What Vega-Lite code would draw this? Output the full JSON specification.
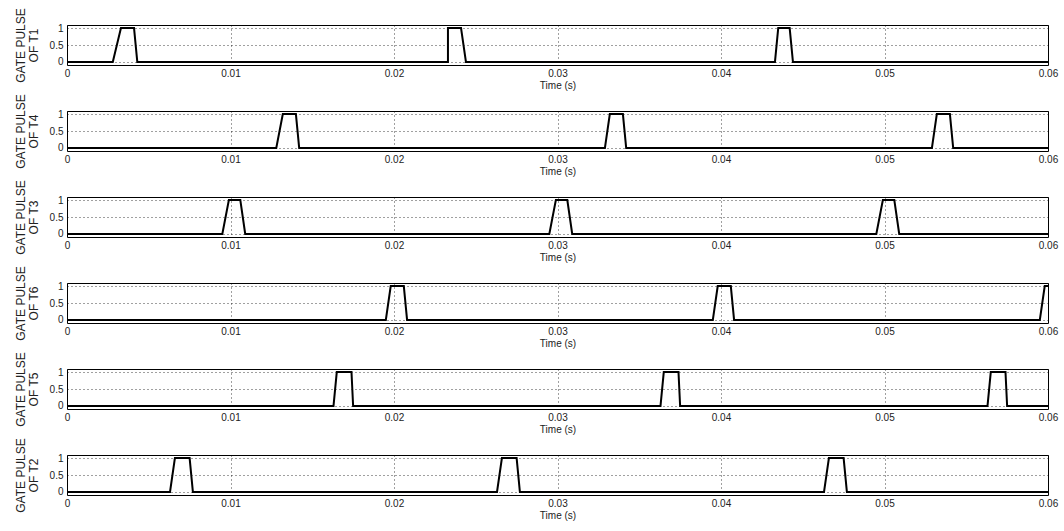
{
  "$schema": "https://vega.github.io/schema/vega-lite/v6.json",
  "background": "white",
  "padding": {"left": 13, "top": 7, "right": 5, "bottom": 2},
  "autosize": {"type": "pad"},
  "bounds": "flush",
  "spacing": 46,
  "config": {
    "view": {"stroke": "black", "strokeWidth": 1},
    "axis": {
      "labelFont": "Liberation Sans",
      "labelFontSize": 10,
      "labelColor": "#222",
      "titleFont": "Liberation Sans",
      "titleFontWeight": "normal",
      "titleColor": "#222",
      "grid": true,
      "gridColor": "black",
      "gridDash": [1, 3],
      "gridOpacity": 0.75,
      "ticks": false,
      "domain": false,
      "labelFlush": false
    },
    "axisX": {"titleFontSize": 10, "labelPadding": 3, "titlePadding": 2},
    "axisY": {"titleFontSize": 12, "labelPadding": 4, "titlePadding": 9, "titleLineHeight": 13}
  },
  "data": {"values": [
    {"p":"T1","i":0,"t":0,"v":0},{"p":"T1","i":1,"t":0.0028,"v":0},{"p":"T1","i":2,"t":0.0033,"v":1},{"p":"T1","i":3,"t":0.0041,"v":1},{"p":"T1","i":4,"t":0.0043,"v":0},{"p":"T1","i":5,"t":0.0233,"v":0},{"p":"T1","i":6,"t":0.0233,"v":1},{"p":"T1","i":7,"t":0.0241,"v":1},{"p":"T1","i":8,"t":0.0244,"v":0},{"p":"T1","i":9,"t":0.0433,"v":0},{"p":"T1","i":10,"t":0.0435,"v":1},{"p":"T1","i":11,"t":0.0442,"v":1},{"p":"T1","i":12,"t":0.0444,"v":0},{"p":"T1","i":13,"t":0.06,"v":0},
    {"p":"T4","i":0,"t":0,"v":0},{"p":"T4","i":1,"t":0.0128,"v":0},{"p":"T4","i":2,"t":0.0132,"v":1},{"p":"T4","i":3,"t":0.014,"v":1},{"p":"T4","i":4,"t":0.0142,"v":0},{"p":"T4","i":5,"t":0.0329,"v":0},{"p":"T4","i":6,"t":0.0332,"v":1},{"p":"T4","i":7,"t":0.034,"v":1},{"p":"T4","i":8,"t":0.0342,"v":0},{"p":"T4","i":9,"t":0.0529,"v":0},{"p":"T4","i":10,"t":0.0532,"v":1},{"p":"T4","i":11,"t":0.054,"v":1},{"p":"T4","i":12,"t":0.0542,"v":0},{"p":"T4","i":13,"t":0.06,"v":0},
    {"p":"T3","i":0,"t":0,"v":0},{"p":"T3","i":1,"t":0.0095,"v":0},{"p":"T3","i":2,"t":0.0099,"v":1},{"p":"T3","i":3,"t":0.0106,"v":1},{"p":"T3","i":4,"t":0.0109,"v":0},{"p":"T3","i":5,"t":0.0295,"v":0},{"p":"T3","i":6,"t":0.0299,"v":1},{"p":"T3","i":7,"t":0.0306,"v":1},{"p":"T3","i":8,"t":0.0309,"v":0},{"p":"T3","i":9,"t":0.0495,"v":0},{"p":"T3","i":10,"t":0.0499,"v":1},{"p":"T3","i":11,"t":0.0506,"v":1},{"p":"T3","i":12,"t":0.0509,"v":0},{"p":"T3","i":13,"t":0.06,"v":0},
    {"p":"T6","i":0,"t":0,"v":0},{"p":"T6","i":1,"t":0.0195,"v":0},{"p":"T6","i":2,"t":0.0198,"v":1},{"p":"T6","i":3,"t":0.0206,"v":1},{"p":"T6","i":4,"t":0.0208,"v":0},{"p":"T6","i":5,"t":0.0395,"v":0},{"p":"T6","i":6,"t":0.0398,"v":1},{"p":"T6","i":7,"t":0.0406,"v":1},{"p":"T6","i":8,"t":0.0408,"v":0},{"p":"T6","i":9,"t":0.0595,"v":0},{"p":"T6","i":10,"t":0.0598,"v":1},{"p":"T6","i":11,"t":0.06,"v":1},
    {"p":"T5","i":0,"t":0,"v":0},{"p":"T5","i":1,"t":0.0163,"v":0},{"p":"T5","i":2,"t":0.0165,"v":1},{"p":"T5","i":3,"t":0.0174,"v":1},{"p":"T5","i":4,"t":0.0175,"v":0},{"p":"T5","i":5,"t":0.0363,"v":0},{"p":"T5","i":6,"t":0.0365,"v":1},{"p":"T5","i":7,"t":0.0374,"v":1},{"p":"T5","i":8,"t":0.0375,"v":0},{"p":"T5","i":9,"t":0.0563,"v":0},{"p":"T5","i":10,"t":0.0565,"v":1},{"p":"T5","i":11,"t":0.0574,"v":1},{"p":"T5","i":12,"t":0.0575,"v":0},{"p":"T5","i":13,"t":0.06,"v":0},
    {"p":"T2","i":0,"t":0,"v":0},{"p":"T2","i":1,"t":0.0063,"v":0},{"p":"T2","i":2,"t":0.0066,"v":1},{"p":"T2","i":3,"t":0.0075,"v":1},{"p":"T2","i":4,"t":0.0077,"v":0},{"p":"T2","i":5,"t":0.0263,"v":0},{"p":"T2","i":6,"t":0.0266,"v":1},{"p":"T2","i":7,"t":0.0275,"v":1},{"p":"T2","i":8,"t":0.0277,"v":0},{"p":"T2","i":9,"t":0.0463,"v":0},{"p":"T2","i":10,"t":0.0466,"v":1},{"p":"T2","i":11,"t":0.0475,"v":1},{"p":"T2","i":12,"t":0.0477,"v":0},{"p":"T2","i":13,"t":0.06,"v":0}
  ]},
  "vconcat": [
    {"width": 981, "height": 40, "transform": [{"filter": "datum.p === 'T1'"}],
     "mark": {"type": "line", "color": "black", "strokeWidth": 2, "clip": true},
     "encoding": {
       "x": {"field": "t", "type": "quantitative", "scale": {"domain": [0, 0.06], "nice": false, "zero": false}, "axis": {"values": [0, 0.01, 0.02, 0.03, 0.04, 0.05, 0.06], "format": "~g", "title": "Time (s)"}},
       "y": {"field": "v", "type": "quantitative", "scale": {"domain": [-0.09, 1.09], "nice": false}, "axis": {"values": [0, 0.5, 1], "format": "~g", "title": ["GATE PULSE", "OF T1"]}},
       "order": {"field": "i", "type": "quantitative"}}},
    {"width": 981, "height": 40, "transform": [{"filter": "datum.p === 'T4'"}],
     "mark": {"type": "line", "color": "black", "strokeWidth": 2, "clip": true},
     "encoding": {
       "x": {"field": "t", "type": "quantitative", "scale": {"domain": [0, 0.06], "nice": false, "zero": false}, "axis": {"values": [0, 0.01, 0.02, 0.03, 0.04, 0.05, 0.06], "format": "~g", "title": "Time (s)"}},
       "y": {"field": "v", "type": "quantitative", "scale": {"domain": [-0.09, 1.09], "nice": false}, "axis": {"values": [0, 0.5, 1], "format": "~g", "title": ["GATE PULSE", "OF T4"]}},
       "order": {"field": "i", "type": "quantitative"}}},
    {"width": 981, "height": 40, "transform": [{"filter": "datum.p === 'T3'"}],
     "mark": {"type": "line", "color": "black", "strokeWidth": 2, "clip": true},
     "encoding": {
       "x": {"field": "t", "type": "quantitative", "scale": {"domain": [0, 0.06], "nice": false, "zero": false}, "axis": {"values": [0, 0.01, 0.02, 0.03, 0.04, 0.05, 0.06], "format": "~g", "title": "Time (s)"}},
       "y": {"field": "v", "type": "quantitative", "scale": {"domain": [-0.09, 1.09], "nice": false}, "axis": {"values": [0, 0.5, 1], "format": "~g", "title": ["GATE PULSE", "OF T3"]}},
       "order": {"field": "i", "type": "quantitative"}}},
    {"width": 981, "height": 40, "transform": [{"filter": "datum.p === 'T6'"}],
     "mark": {"type": "line", "color": "black", "strokeWidth": 2, "clip": true},
     "encoding": {
       "x": {"field": "t", "type": "quantitative", "scale": {"domain": [0, 0.06], "nice": false, "zero": false}, "axis": {"values": [0, 0.01, 0.02, 0.03, 0.04, 0.05, 0.06], "format": "~g", "title": "Time (s)"}},
       "y": {"field": "v", "type": "quantitative", "scale": {"domain": [-0.09, 1.09], "nice": false}, "axis": {"values": [0, 0.5, 1], "format": "~g", "title": ["GATE PULSE", "OF T6"]}},
       "order": {"field": "i", "type": "quantitative"}}},
    {"width": 981, "height": 40, "transform": [{"filter": "datum.p === 'T5'"}],
     "mark": {"type": "line", "color": "black", "strokeWidth": 2, "clip": true},
     "encoding": {
       "x": {"field": "t", "type": "quantitative", "scale": {"domain": [0, 0.06], "nice": false, "zero": false}, "axis": {"values": [0, 0.01, 0.02, 0.03, 0.04, 0.05, 0.06], "format": "~g", "title": "Time (s)"}},
       "y": {"field": "v", "type": "quantitative", "scale": {"domain": [-0.09, 1.09], "nice": false}, "axis": {"values": [0, 0.5, 1], "format": "~g", "title": ["GATE PULSE", "OF T5"]}},
       "order": {"field": "i", "type": "quantitative"}}},
    {"width": 981, "height": 40, "transform": [{"filter": "datum.p === 'T2'"}],
     "mark": {"type": "line", "color": "black", "strokeWidth": 2, "clip": true},
     "encoding": {
       "x": {"field": "t", "type": "quantitative", "scale": {"domain": [0, 0.06], "nice": false, "zero": false}, "axis": {"values": [0, 0.01, 0.02, 0.03, 0.04, 0.05, 0.06], "format": "~g", "title": "Time (s)"}},
       "y": {"field": "v", "type": "quantitative", "scale": {"domain": [-0.09, 1.09], "nice": false}, "axis": {"values": [0, 0.5, 1], "format": "~g", "title": ["GATE PULSE", "OF T2"]}},
       "order": {"field": "i", "type": "quantitative"}}}
  ]
}
